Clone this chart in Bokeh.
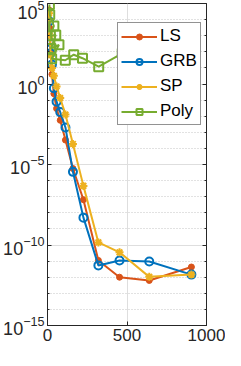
from bokeh.plotting import figure
from bokeh.models import (LogAxis, FixedTicker, Legend, LegendItem,
                          Range1d, CustomJSTickFormatter)
from bokeh.embed import file_html
from bokeh.resources import INLINE

# ---- data ----
n_vals = [10, 14, 20, 28, 40, 57, 80, 113, 160, 226, 320, 453, 640, 905]
ls_err = [4e4, 3e3, 1e2, 4e0, 2.5e-1, 3e-2, 5.6e-3, 3.3e-4, 5.6e-6, 6.5e-8,
          1.1e-11, 1e-12, 6.3e-13, 4.3e-12]
grb_err = [8e3, 4e2, 8e1, 1.6e1, 5.5e-1, 8e-2, 1.8e-2, 2e-3, 3.5e-6, 5e-9,
           5.4e-12, 1.1e-11, 9.5e-12, 1.45e-12]
sp_err = [2.5e4, 1e3, 6.3e1, 1e1, 3.2e0, 7e-1, 1.35e-1, 1.26e-2, 1.9e-4, 4.7e-7,
          1.45e-10, 3.5e-11, 1.05e-12, 1.45e-12]
poly_n = [12, 14, 40, 18, 52, 22, 72, 26, 112, 165, 220, 322, 470]
poly_err = [8.7e4, 2e4, 4e3, 1e3, 1.1e3, 1.6e2, 2.7e2, 3.7e1, 3e1, 6.6e1, 4e1,
            1.2e1, 8e1]

x_ticks = [0, 500, 1000]
y_major = [1e-15, 1e-10, 1e-5, 1e0, 1e5]
y_minor = [1e-14, 1e-13, 1e-12, 1e-11, 1e-9, 1e-8, 1e-7, 1e-6, 1e-4, 1e-3,
           1e-2, 1e-1, 1e1, 1e2, 1e3, 1e4]

FONT = "Liberation Sans"
AX = "#262626"

p = figure(width=225, height=350, x_range=Range1d(0, 1000),
           y_range=Range1d(1e-15, 1e5), y_axis_type="log",
           output_backend="svg", toolbar_location=None,
           min_border_left=43, min_border_right=19, min_border_top=3,
           min_border_bottom=25)
p.outline_line_color = AX
p.outline_line_width = 1
p.background_fill_color = "white"
p.border_fill_color = "white"

yt = FixedTicker(ticks=y_major, minor_ticks=y_minor)
xt = FixedTicker(ticks=x_ticks, minor_ticks=[])
p.yaxis.ticker = yt
p.xaxis.ticker = xt
for ax in (p.xaxis[0], p.yaxis[0]):
    ax.axis_line_color = AX
    ax.major_tick_line_color = AX
    ax.minor_tick_line_color = AX
    ax.major_tick_in = 4
    ax.major_tick_out = 0
    ax.minor_tick_in = 2
    ax.minor_tick_out = 0
    ax.major_label_text_font = FONT
    ax.major_label_text_color = AX
p.yaxis.major_label_text_font_size = "18px"
p.xaxis.major_label_text_font_size = "17px"
p.xaxis.minor_tick_in = 0
p.yaxis.major_label_standoff = 3
p.xaxis.major_label_standoff = 3

# right axis: ticks only (MATLAB box style)
blank = CustomJSTickFormatter(code="return ''")
ra = LogAxis(ticker=yt, formatter=blank, major_tick_in=4, major_tick_out=0,
             minor_tick_in=2, minor_tick_out=0, axis_line_color=AX,
             major_tick_line_color=AX, minor_tick_line_color=AX,
             major_label_standoff=0, major_label_text_font_size="1px")
p.add_layout(ra, "right")

p.xgrid.ticker = xt
p.ygrid.ticker = yt
p.xgrid.grid_line_color = "#dedede"
p.ygrid.grid_line_color = "#dedede"
p.ygrid.minor_grid_line_color = "#c4c4c4"
p.ygrid.minor_grid_line_dash = "1 2"

C_LS, C_GRB, C_SP, C_POLY = "#D95319", "#0072BD", "#EDB120", "#77AC30"
LW = 2

l1 = p.line(n_vals, ls_err, color=C_LS, line_width=LW)
m1 = p.scatter(n_vals, ls_err, marker="circle", size=6, color=C_LS)
l2 = p.line(n_vals, grb_err, color=C_GRB, line_width=LW)
m2 = p.scatter(n_vals, grb_err, marker="circle", size=8, line_color=C_GRB,
               line_width=2, fill_alpha=0)
l3 = p.line(n_vals, sp_err, color=C_SP, line_width=LW)
m3 = p.scatter(n_vals, sp_err, marker="asterisk", size=8, line_color=C_SP,
               line_width=2)
l4 = p.line(poly_n, poly_err, color=C_POLY, line_width=LW)
m4 = p.scatter(poly_n, poly_err, marker="square", size=9, line_color=C_POLY,
               line_width=2, fill_alpha=0)

legend = Legend(items=[LegendItem(label="LS", renderers=[l1, m1]),
                       LegendItem(label="GRB", renderers=[l2, m2]),
                       LegendItem(label="SP", renderers=[l3, m3]),
                       LegendItem(label="Poly", renderers=[l4, m4])],
                location=(70, 200), border_line_color=AX, border_line_width=1,
                background_fill_color="white", background_fill_alpha=1,
                label_text_font=FONT, label_text_font_size="17px",
                label_text_color="black", glyph_width=36, glyph_height=15,
                label_standoff=3, padding=3, spacing=5, margin=0)
p.add_layout(legend, "center")

open("out.html", "w").write(file_html(p, INLINE))
